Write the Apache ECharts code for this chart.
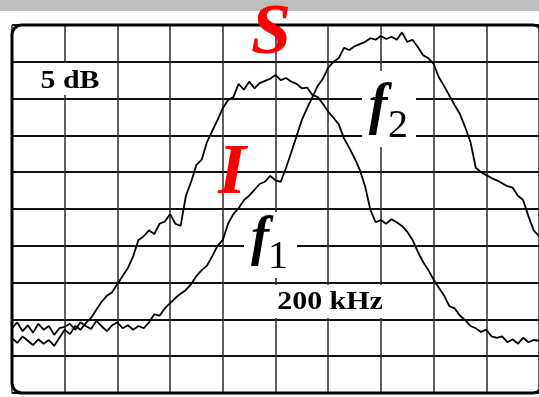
<!DOCTYPE html>
<html>
<head>
<meta charset="utf-8">
<script src="https://cdn.jsdelivr.net/npm/echarts@6/dist/echarts.min.js"></script>
<style>
  html, body { margin: 0; padding: 0; background: #fff; }
  #chart { width: 539px; height: 397px; }
</style>
</head>
<body>
<div id="chart"></div>
<script>
// frequency offset across the screen, kHz (200 kHz / div)
const freqKHz = [
  0, 20, 40, 60, 80, 100, 120, 140, 160, 180,
  200, 220, 240, 260, 280, 300, 320, 340, 360, 380,
  400, 420, 440, 460, 480, 500, 520, 540, 560, 580,
  600, 620, 640, 660, 680, 700, 720, 740, 760, 780,
  800, 820, 840, 860, 880, 900, 920, 940, 960, 980,
  1000, 1020, 1040, 1060, 1080, 1100, 1120, 1140, 1160, 1180,
  1200, 1220, 1240, 1260, 1280, 1300, 1320, 1340, 1360, 1380,
  1400, 1420, 1440, 1460, 1480, 1500, 1520, 1540, 1560, 1580,
  1600, 1620, 1640, 1660, 1680, 1700, 1720, 1740, 1760, 1780,
  1800, 1820, 1840, 1860, 1880, 1900, 1920, 1940, 1960, 1980,
  2000
]

// level relative to top line, dB (5 dB / div)
const traceS = [
  -42.5, -43.2, -42.3, -42.9, -43.5, -42.7, -43.3, -42.8, -43.6, -42.5,
  -41.4, -42.0, -40.9, -41.4, -40.5, -39.8, -38.7, -37.6, -36.8, -36.3,
  -35.2, -34.1, -33.0, -31.4, -29.2, -28.7, -27.9, -28.4, -27.0, -26.7,
  -25.7, -27.0, -27.3, -23.2, -21.3, -19.0, -18.3, -15.9, -14.4, -12.9,
  -11.3, -10.2, -9.8, -8.0, -8.8, -7.7, -8.6, -7.9, -7.6, -7.3,
  -6.8, -7.5, -7.2, -7.7, -8.0, -8.6, -8.5, -9.5, -9.8, -10.7,
  -11.8, -12.6, -13.5, -15.4, -16.7, -18.1, -19.7, -21.9, -25.1, -26.8,
  -26.5, -27.0, -26.4, -26.8, -27.3, -28.1, -29.2, -30.8, -32.2, -33.3,
  -34.6, -35.7, -36.8, -38.2, -38.5, -39.5, -40.1, -40.9, -41.2, -41.7,
  -41.4, -42.3, -42.5, -42.3, -43.1, -42.7, -43.3, -42.5, -43.1, -42.8,
  -42.9
]

const traceI = [
  -41.2, -40.4, -41.6, -40.8, -41.8, -40.6, -41.4, -40.9, -42.1, -41.2,
  -41.0, -40.6, -41.4, -40.4, -40.9, -41.3, -40.2, -40.9, -41.6, -40.8,
  -40.4, -41.2, -40.8, -41.4, -40.9, -41.2, -40.4, -39.3, -39.5, -38.5,
  -37.8, -37.1, -36.5, -36.0, -35.2, -34.1, -33.3, -32.7, -31.4, -30.0,
  -29.2, -27.0, -25.7, -24.9, -23.8, -23.2, -22.4, -21.6, -21.3, -20.5,
  -21.1, -21.3, -19.4, -17.3, -15.1, -12.9, -11.3, -9.8, -8.3, -7.3,
  -5.8, -5.0, -4.5, -3.1, -3.4, -2.9, -2.6, -2.3, -1.8, -2.0,
  -1.5, -1.9, -1.6, -2.0, -1.0, -2.3, -2.0, -3.0, -4.1, -4.5,
  -5.3, -7.1, -8.3, -9.6, -10.9, -12.1, -13.9, -15.9, -19.4, -20.0,
  -20.4, -20.8, -21.1, -21.5, -21.9, -22.1, -23.2, -23.8, -26.0, -27.9,
  -28.7
]

const chart = echarts.init(document.getElementById('chart'))

function pairs(levels) {
  return freqKHz.map((f, i) => [f, levels[i]])
}

function trace(name, levels) {
  return {
    name: name,
    type: 'line',
    showSymbol: false,
    silent: true,
    z: 5,
    lineStyle: { color: '#000', width: 1.8 },
    data: pairs(levels)
  }
}

function label(text, x, y, font, color, opts) {
  return Object.assign({
    type: 'text',
    x: x,
    y: y,
    z: 120,
    silent: true,
    style: {
      text: text,
      x: 0,
      y: 0,
      font: font,
      fill: color,
      align: 'center',
      verticalAlign: 'middle',
      textAlign: 'center',
      textVerticalAlign: 'middle'
    }
  }, opts || {})
}

function whiteBox(x, y, w, h) {
  return {
    type: 'rect',
    z: 110,
    silent: true,
    shape: { x: x, y: y, width: w, height: h },
    style: { fill: '#fff' }
  }
}

const serif = '"Liberation Serif", "Times New Roman", serif'

const option = {
  animation: false,
  backgroundColor: '#fff',
  grid: { left: 12, top: 25, width: 531, height: 368 },
  xAxis: {
    type: 'value',
    min: 0,
    max: 2000,
    interval: 200,
    axisLine: { show: false },
    axisTick: { show: false },
    axisLabel: { show: false },
    splitLine: { lineStyle: { color: '#2a2a2a', width: 1.5 } }
  },
  yAxis: {
    type: 'value',
    min: -50,
    max: 0,
    interval: 5,
    axisLine: { show: false },
    axisTick: { show: false },
    axisLabel: { show: false },
    splitLine: { lineStyle: { color: '#111', width: 2 } }
  },
  series: [
    trace('S', traceS),
    trace('I', traceI)
  ],
  graphic: [
    {
      type: 'rect',
      z: 100,
      silent: true,
      shape: { x: 0, y: 0, width: 539, height: 11 },
      style: { fill: '#bdbdbd' }
    },
    {
      type: 'rect',
      z: 105,
      silent: true,
      shape: { x: 12, y: 25, width: 531, height: 368, r: 10 },
      style: { fill: null, stroke: '#000', lineWidth: 3 }
    },
    whiteBox(38, 63, 64, 32),
    whiteBox(362, 71, 54, 76),
    whiteBox(244, 212, 53, 66),
    whiteBox(272, 285, 116, 33),
    label('5 dB', 70, 81, 'bold 26px ' + serif, '#000', { scaleX: 1.15 }),
    label('200 kHz', 330, 302, 'bold 26px ' + serif, '#000', { scaleX: 1.15 }),
    label('f', 378, 109, 'italic bold 56px ' + serif, '#000'),
    label('2', 398, 126, '40px ' + serif, '#000'),
    label('f', 260, 240, 'italic bold 54px ' + serif, '#000'),
    label('1', 278, 257, '40px ' + serif, '#000'),
    label('S', 271, 34, 'italic bold 72px ' + serif, '#ff0000'),
    label('I', 232, 174, 'italic bold 72px ' + serif, '#ff0000')
  ]
}

chart.setOption(option)
</script>
</body>
</html>
